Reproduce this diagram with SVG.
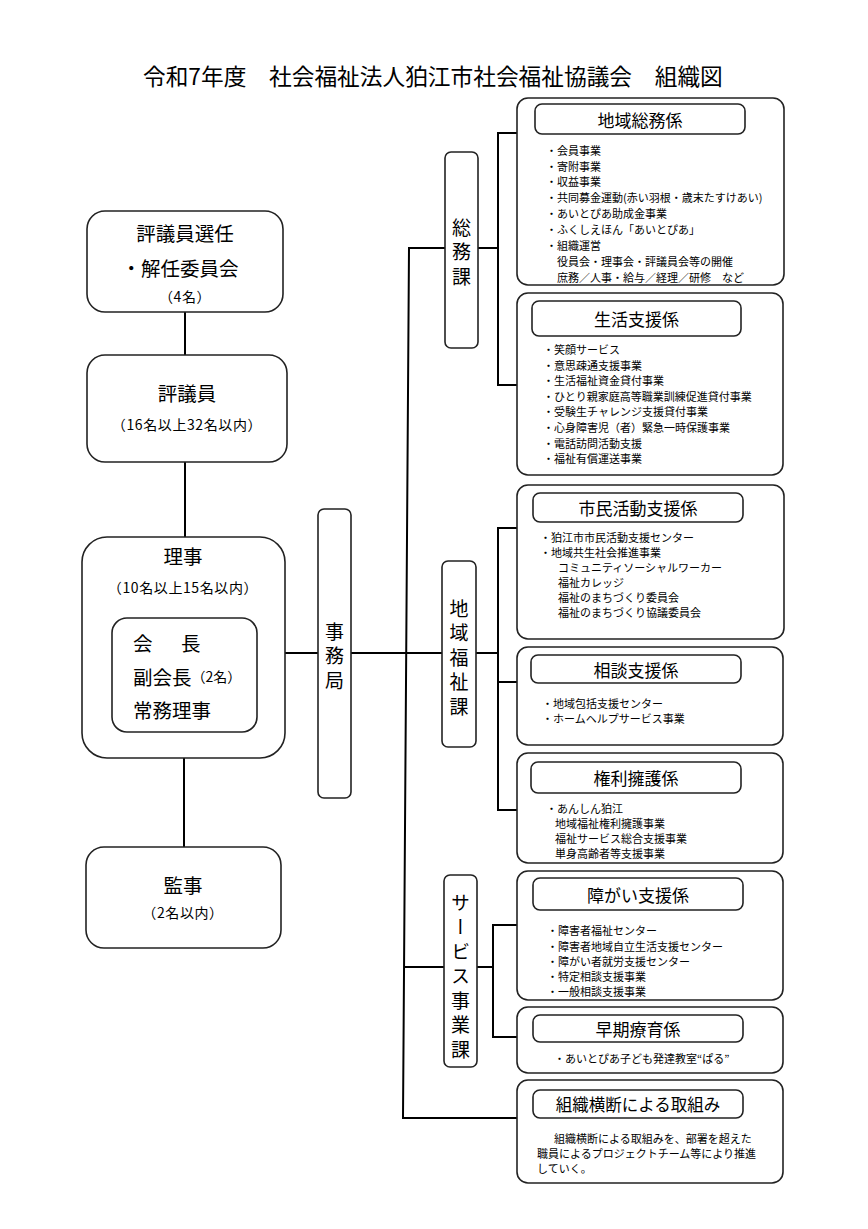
<svg xmlns="http://www.w3.org/2000/svg" width="868" height="1229" viewBox="0 0 868 1229">
<style>
.bg{fill:#fff}
.box{fill:#fff;stroke:#222;stroke-width:1.6}
.hdb{fill:#fff;stroke:#222;stroke-width:1.6}
.ln{fill:none;stroke:#000;stroke-width:2}
text{font-family:"Noto Sans CJK JP","Noto Sans",sans-serif;fill:#000}
.ttl{font-size:22.7px;dominant-baseline:central}
.big{font-size:19.5px;text-anchor:middle;dominant-baseline:central}
.sm{font-size:14px;letter-spacing:0.6px;text-anchor:middle;dominant-baseline:central}
.inn{font-size:19.5px;dominant-baseline:central}
.vt{font-size:19px;writing-mode:vertical-rl;letter-spacing:5.5px}
.hd{font-size:17px;text-anchor:middle;dominant-baseline:central}
.li{font-size:11px;dominant-baseline:central}
</style>
<rect class="bg" x="0" y="0" width="868" height="1229"/>
<text class="ttl" x="143" y="75">令和7年度　社会福祉法人狛江市社会福祉協議会　組織図</text>

<g id="connectors">
<path class="ln" d="M185 312V355M185 462V537M184 758V847"/>
<path class="ln" d="M285 653H318M351 653H407"/>
<path class="ln" d="M445 248H409L403 1118H517"/>
<path class="ln" d="M407 653H442M405 967H444"/>
<path class="ln" d="M478 248H498M517 133H498V385H517"/>
<path class="ln" d="M476 653H498M517 528H498V810H517M498 682H517"/>
<path class="ln" d="M477 967H493M517 925H493V1037H517"/>
</g>

<g id="hyogiin-sennin">
<rect class="box" x="87" y="211" width="196" height="101" rx="18"/>
<text class="big" x="185" y="232">評議員選任</text>
<text class="big" x="180" y="267">・解任委員会</text>
<text class="sm" x="185" y="296">（4名）</text>
</g>

<g id="hyogiin">
<rect class="box" x="87" y="355" width="200" height="107" rx="18"/>
<text class="big" x="187" y="392">評議員</text>
<text class="sm" x="187" y="424">（16名以上32名以内）</text>
</g>

<g id="riji">
<rect class="box" x="82" y="537" width="203" height="221" rx="25"/>
<text class="big" x="183" y="555">理事</text>
<text class="sm" x="183" y="587">（10名以上15名以内）</text>
<rect class="box" x="112" y="618" width="145" height="114" rx="15"/>
<text class="inn" x="133" y="642">会</text>
<text class="inn" x="181" y="642">長</text>
<text class="inn" x="133" y="676">副会長<tspan font-size="14px">（2名）</tspan></text>
<text class="inn" x="133" y="709">常務理事</text>
</g>

<g id="kanji">
<rect class="box" x="86" y="847" width="195" height="101" rx="18"/>
<text class="big" x="183" y="884">監事</text>
<text class="sm" x="183" y="912">（2名以内）</text>
</g>

<g id="jimukyoku">
<rect class="box" x="318" y="509" width="33" height="289" rx="6"/>
<text class="vt" x="334.5" y="622">事務局</text>
</g>

<g id="somuka">
<rect class="box" x="445" y="152" width="33" height="196" rx="6"/>
<text class="vt" x="461.5" y="218">総務課</text>
</g>

<g id="chiikifukushika">
<rect class="box" x="442" y="561" width="34" height="186" rx="6"/>
<text class="vt" x="459" y="599">地域福祉課</text>
</g>

<g id="servicejigyoka">
<rect class="box" x="444" y="875" width="33" height="192" rx="6"/>
<text class="vt" x="460.5" y="893">サービス事業課</text>
</g>

<g id="chiikisomu">
<rect class="box" x="517" y="98" width="267" height="187" rx="11"/>
<rect class="hdb" x="535" y="104" width="210" height="30" rx="7"/>
<text class="hd" x="640" y="119">地域総務係</text>
<text class="li" x="546" y="150">・会員事業</text>
<text class="li" x="546" y="166">・寄附事業</text>
<text class="li" x="546" y="181">・収益事業</text>
<text class="li" x="546" y="197">・共同募金運動(赤い羽根・歳末たすけあい)</text>
<text class="li" x="546" y="213">・あいとぴあ助成金事業</text>
<text class="li" x="546" y="229">・ふくしえほん「あいとぴあ」</text>
<text class="li" x="546" y="245">・組織運営</text>
<text class="li" x="557" y="261">役員会・理事会・評議員会等の開催</text>
<text class="li" x="557" y="277">庶務／人事・給与／経理／研修　など</text>
</g>

<g id="seikatsushien">
<rect class="box" x="517" y="293" width="266" height="182" rx="11"/>
<rect class="hdb" x="532" y="301" width="209" height="35" rx="7"/>
<text class="hd" x="636.5" y="318.5">生活支援係</text>
<text class="li" x="543" y="349">・笑顔サービス</text>
<text class="li" x="543" y="364.6">・意思疎通支援事業</text>
<text class="li" x="543" y="380.2">・生活福祉資金貸付事業</text>
<text class="li" x="543" y="395.8">・ひとり親家庭高等職業訓練促進貸付事業</text>
<text class="li" x="543" y="411.4">・受験生チャレンジ支援貸付事業</text>
<text class="li" x="543" y="427">・心身障害児（者）緊急一時保護事業</text>
<text class="li" x="543" y="442.6">・電話訪問活動支援</text>
<text class="li" x="543" y="458.2">・福祉有償運送事業</text>
</g>

<g id="shiminkatsudo">
<rect class="box" x="517" y="485" width="267" height="154" rx="11"/>
<rect class="hdb" x="533" y="493" width="210" height="29" rx="7"/>
<text class="hd" x="638" y="507.5">市民活動支援係</text>
<text class="li" x="540" y="537">・狛江市市民活動支援センター</text>
<text class="li" x="540" y="552">・地域共生社会推進事業</text>
<text class="li" x="558" y="567">コミュニティソーシャルワーカー</text>
<text class="li" x="558" y="582">福祉カレッジ</text>
<text class="li" x="558" y="597">福祉のまちづくり委員会</text>
<text class="li" x="558" y="612">福祉のまちづくり協議委員会</text>
</g>

<g id="sodanshien">
<rect class="box" x="517" y="647" width="266" height="98" rx="11"/>
<rect class="hdb" x="531" y="655" width="210" height="28" rx="7"/>
<text class="hd" x="636" y="669">相談支援係</text>
<text class="li" x="542" y="703">・地域包括支援センター</text>
<text class="li" x="542" y="718">・ホームヘルプサービス事業</text>
</g>

<g id="kenriyogo">
<rect class="box" x="517" y="753" width="266" height="110" rx="11"/>
<rect class="hdb" x="531" y="762" width="210" height="31" rx="7"/>
<text class="hd" x="636" y="777.5">権利擁護係</text>
<text class="li" x="546" y="808">・あんしん狛江</text>
<text class="li" x="555" y="823">地域福祉権利擁護事業</text>
<text class="li" x="555" y="838">福祉サービス総合支援事業</text>
<text class="li" x="555" y="853">単身高齢者等支援事業</text>
</g>

<g id="shogaishien">
<rect class="box" x="517" y="871" width="266" height="129" rx="11"/>
<rect class="hdb" x="533" y="878" width="210" height="32" rx="7"/>
<text class="hd" x="638" y="894">障がい支援係</text>
<text class="li" x="547" y="930">・障害者福祉センター</text>
<text class="li" x="547" y="946">・障害者地域自立生活支援センター</text>
<text class="li" x="547" y="961">・障がい者就労支援センター</text>
<text class="li" x="547" y="976">・特定相談支援事業</text>
<text class="li" x="547" y="991">・一般相談支援事業</text>
</g>

<g id="sokiryoiku">
<rect class="box" x="517" y="1007" width="266" height="66" rx="11"/>
<rect class="hdb" x="533" y="1015" width="210" height="27" rx="7"/>
<text class="hd" x="638" y="1028.5">早期療育係</text>
<text class="li" x="554" y="1058">・あいとぴあ子ども発達教室“ぱる”</text>
</g>

<g id="soshikioudan">
<rect class="box" x="517" y="1080" width="266" height="103" rx="11"/>
<rect class="hdb" x="533" y="1090" width="210" height="28" rx="7"/>
<text class="hd" x="638" y="1104" style="font-size:16.5px">組織横断による取組み</text>
<text class="li" x="554" y="1138">組織横断による取組みを、部署を超えた</text>
<text class="li" x="537" y="1153">職員によるプロジェクトチーム等により推進</text>
<text class="li" x="537" y="1168">していく。</text>
</g>
</svg>
